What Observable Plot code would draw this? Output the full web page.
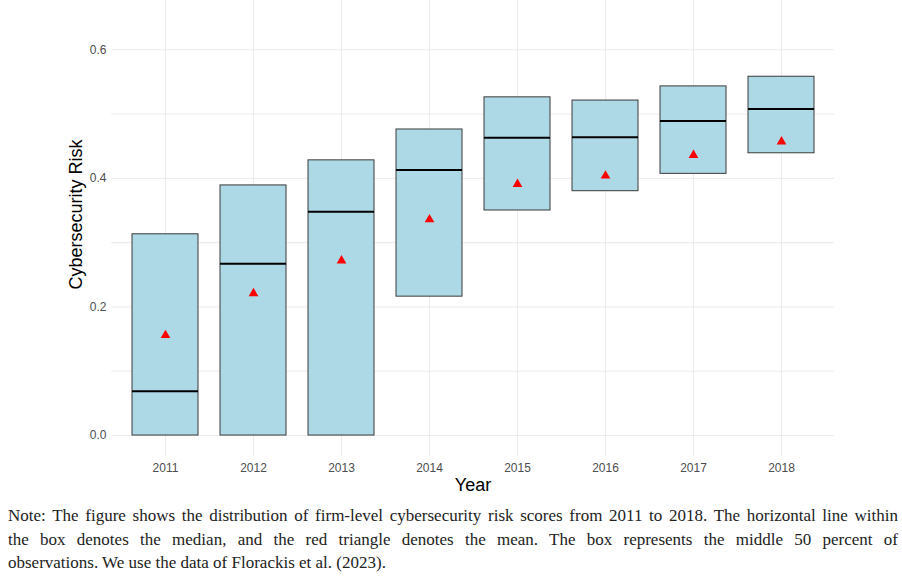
<!DOCTYPE html>
<html>
<head>
<meta charset="utf-8">
<script src="https://cdn.jsdelivr.net/npm/d3@7"></script>
<script src="https://cdn.jsdelivr.net/npm/@observablehq/plot@0.6"></script>
<style>
  html, body { margin: 0; padding: 0; background: #fff; }
  #chart svg { display: block; }
  #note {
    margin: 4px 4px 0 8px;
    font-family: "Liberation Serif", "DejaVu Serif", serif;
    font-size: 17px;
    line-height: 23.5px;
    color: #222;
  }
  #note .j { text-align: justify; text-align-last: justify; white-space: nowrap; }
</style>
</head>
<body>
<div id="chart"></div>
<div id="note">
  <div class="j">Note: The figure shows the distribution of firm-level cybersecurity risk scores from 2011 to 2018. The horizontal line within</div>
  <div class="j">the box denotes the median, and the red triangle denotes the mean. The box represents the middle 50 percent of</div>
  <div>observations. We use the data of Florackis et al. (2023).</div>
</div>
<script>
const years = ["2011", "2012", "2013", "2014", "2015", "2016", "2017", "2018"];
const q1 = [0, 0, 0, 0.216, 0.350, 0.380, 0.407, 0.439];
const q3 = [0.313, 0.389, 0.428, 0.476, 0.526, 0.521, 0.543, 0.558];
const medians = [0.069, 0.267, 0.348, 0.413, 0.463, 0.464, 0.489, 0.508];
const means = [0.156, 0.221, 0.272, 0.336, 0.391, 0.404, 0.436, 0.457];
const yTicks = [0, 0.2, 0.4, 0.6];
const yGrid = [0, 0.1, 0.2, 0.3, 0.4, 0.5, 0.6];

const data = years.map((year, i) => ({year, q1: q1[i], q3: q3[i], median: medians[i], mean: means[i]}));

const chart = Plot.plot({
  width: 902,
  height: 500,
  marginLeft: 111,
  marginRight: 68,
  marginTop: 0,
  marginBottom: 44,
  style: {fontFamily: "'Liberation Sans', Arial, sans-serif", background: "#fff"},
  x: {type: "band", domain: years, paddingInner: 0.25, paddingOuter: 0.225},
  y: {domain: [-0.0326, 0.6766]},
  marks: [
    Plot.ruleY(yGrid, {stroke: "#ebebeb", strokeWidth: 1}),
    Plot.gridX({stroke: "#ebebeb", strokeOpacity: 1}),
    Plot.axisX({tickSize: 0, tickPadding: 7, fontSize: 12, color: "#4d4d4d", label: null}),
    Plot.axisY({ticks: yTicks, tickSize: 0, tickPadding: 5, fontSize: 12, color: "#4d4d4d", label: null, tickFormat: d3.format(".1f")}),
    Plot.barY(data, {x: "year", y1: "q1", y2: "q3", fill: "#add8e6", stroke: "#3a3a3a", strokeWidth: 1}),
    Plot.tickY(data, {x: "year", y: "median", stroke: "#000", strokeWidth: 2}),
    Plot.dot(data, {x: "year", y: "mean", symbol: "triangle", fill: "red", stroke: "none", r: 3.6}),
    Plot.text(["Cybersecurity Risk"], {frameAnchor: "left", textAnchor: "middle", lineAnchor: "middle", dx: -35, dy: -14, rotate: -90, fontSize: 18, fill: "#000"}),
    Plot.text(["Year"], {frameAnchor: "bottom", textAnchor: "middle", lineAnchor: "middle", dy: 29, fontSize: 18, fill: "#000"})
  ]
});
document.getElementById("chart").appendChild(chart);
</script>
</body>
</html>
